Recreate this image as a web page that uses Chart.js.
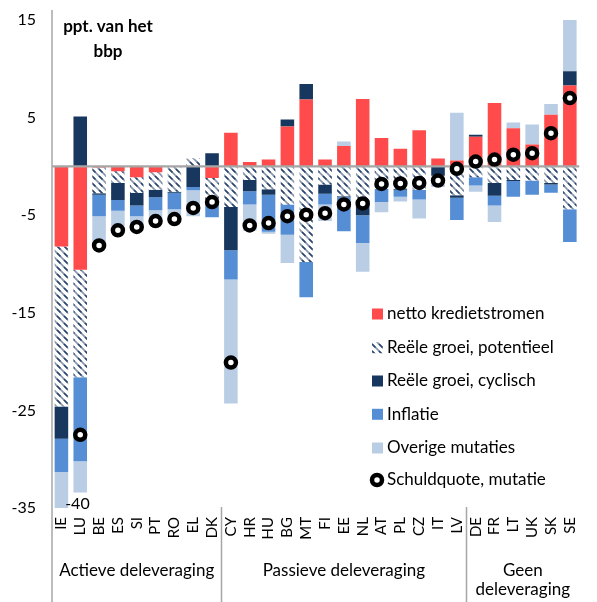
<!DOCTYPE html>
<html>
<head>
<meta charset="utf-8">
<script src="https://cdn.jsdelivr.net/npm/chart.js@4.4.0/dist/chart.umd.min.js"></script>
<style>
  body { margin: 0; background: #fff; }
  #wrap { width: 597px; height: 602px; position: relative; }
</style>
</head>
<body>
<div id="wrap"><canvas id="chart"></canvas></div>
<script>
const countries = ["IE", "LU", "BE", "ES", "SI", "PT", "RO", "EL", "DK",
  "CY", "HR", "HU", "BG", "MT", "FI", "EE", "NL", "AT", "PL", "CZ", "IT", "LV",
  "DE", "FR", "LT", "UK", "SK", "SE"];

const kredietstromen = [-8.2, -10.6, -0.1, -0.5, -1.1, -0.6, -0.05, 0, -1.2,
  3.45, 0.45, 0.7, 4.1, 6.85, 0.7, 2.1, 6.9, 2.9, 1.8, 3.7, 0.8, 0.6,
  3.05, 6.5, 3.9, 2.25, 5.3, 8.3];
const groeiPotentieel = [-16.4, -11.0, -2.65, -1.2, -1.6, -1.8, -2.55, 0.8, -2.8,
  -4.15, -1.4, -2.35, -3.9, -9.8, -1.85, -3.05, -3.8, -2.3, -2.3, -2.4, 0, -2.95,
  -1.1, -1.7, -1.4, -1.45, -1.7, -4.4];
const groeiCyclisch = [-3.3, 5.1, -0.15, -1.75, -1.3, -0.75, -0.1, -2.1, 1.35,
  -4.45, -1.15, -0.55, 0.7, 1.6, -0.95, -0.1, -1.2, 0, -0.1, 0, -0.95, -0.25,
  0.2, -1.3, -0.1, 0, -0.15, 1.45];
const inflatie = [-3.4, -8.6, -2.2, -1.1, -1.1, -1.35, -1.7, -0.35, -1.2,
  -3.0, -1.35, -3.8, -3.1, -3.6, -1.1, -3.5, -2.85, -1.35, -0.7, -1.0, 0, -2.3,
  -0.85, -1.0, -1.6, -1.45, -0.85, -3.35];
const overig = [-8.7, -3.2, -3.1, -2.25, -1.2, -1.2, -1.2, -2.65, 0,
  -12.7, -2.7, -0.2, -2.9, 0, -1.7, 0.45, -2.95, -1.05, -0.5, -1.95, -1.15, 4.9,
  -0.65, -1.7, 0.6, 2.05, 1.1, 5.45];
const schuldquote = [null, -27.5, -8.1, -6.55, -6.2, -5.6, -5.4, -4.25, -3.65,
  -20.1, -6.05, -5.8, -5.1, -4.95, -4.8, -3.9, -3.8, -1.8, -1.75, -1.7, -1.45, -0.25,
  0.5, 0.7, 1.2, 1.35, 3.4, 7.0];

const groups = [
  { lines: ["Actieve deleveraging"], from: 0, to: 8 },
  { lines: ["Passieve deleveraging"], from: 9, to: 21 },
  { lines: ["Geen", "deleveraging"], from: 22, to: 27 }
];
const seriesNames = ["netto kredietstromen", "Reële groei, potentieel", "Reële groei, cyclisch",
  "Inflatie", "Overige mutaties", "Schuldquote, mutatie"];

const FONT = "Lato, 'Noto Sans', sans-serif";
const RED = "#ff4b4b", NAVY = "#17375e", BLUE = "#558ed5", LIGHT = "#b9cde5";

// white with dashed navy diagonals, like the Excel fill
function makeHatch() {
  const c = document.createElement("canvas");
  c.width = 7; c.height = 7;
  const g = c.getContext("2d");
  g.fillStyle = "#fff";
  g.fillRect(0, 0, 7, 7);
  g.lineWidth = 1.6;
  g.strokeStyle = "#8796ab";
  g.beginPath();
  g.moveTo(-1, -1); g.lineTo(8, 8);
  g.moveTo(-1, 6); g.lineTo(1, 8);
  g.moveTo(6, -1); g.lineTo(8, 1);
  g.stroke();
  g.strokeStyle = "#2a4570";
  g.beginPath();
  g.moveTo(1, 1); g.lineTo(4.5, 4.5);
  g.stroke();
  return g.createPattern(c, "repeat");
}
const HATCH = makeHatch();

function barSet(label, data, color) {
  return {
    type: "bar", label, data, backgroundColor: color,
    barPercentage: 0.72, categoryPercentage: 1, stack: "bars"
  };
}

const extras = {
  id: "extras",
  beforeDatasetDraw(chart, args) {
    if (args.index !== 5) return;
    const { ctx, chartArea } = chart;
    const y0 = chart.scales.y.getPixelForValue(0);
    ctx.save();
    ctx.strokeStyle = "#a6a6a6";
    ctx.lineWidth = 2.3;
    ctx.beginPath();
    ctx.moveTo(chartArea.left, y0);
    ctx.lineTo(chartArea.right, y0);
    ctx.stroke();
    ctx.restore();
  },
  afterDraw(chart) {
    const { ctx, chartArea } = chart;
    const xs = chart.scales.x;
    ctx.save();
    // left axis and group separators
    ctx.strokeStyle = "#a6a6a6";
    ctx.lineWidth = 1.5;
    ctx.beginPath();
    ctx.moveTo(chartArea.left, 10);
    ctx.lineTo(chartArea.left, 602);
    [8.5, 21.5].forEach(v => {
      const x = Math.round(xs.getPixelForValue(v)) + 0.5;
      ctx.moveTo(x, chartArea.bottom - 1);
      ctx.lineTo(x, 602);
    });
    ctx.stroke();

    ctx.fillStyle = "#000";
    ctx.textAlign = "center";
    ctx.textBaseline = "middle";
    ctx.font = "17px " + FONT;
    groups.forEach(g => {
      const x = xs.getPixelForValue((g.from + g.to) / 2);
      g.lines.forEach((t, i) => ctx.fillText(t, x, 571 + i * 19));
    });

    // unit label
    ctx.font = "bold 17px " + FONT;
    ctx.fillText("ppt. van het", 108, 27);
    ctx.fillText("bbp", 108, 52);

    // truncated bar value
    ctx.font = "16px " + FONT;
    ctx.fillText("-40", xs.getPixelForValue(0.85), 504);

    // legend
    const fills = [RED, HATCH, NAVY, BLUE, LIGHT];
    ctx.textAlign = "left";
    ctx.font = "17px " + FONT;
    const rows = [314, 347.7, 381, 414.3, 448, 480];
    seriesNames.forEach((name, i) => {
      const y = rows[i];
      if (i < 5) {
        ctx.fillStyle = fills[i];
        ctx.fillRect(372, y - 5.5, 11, 11);
      } else {
        ctx.beginPath();
        ctx.arc(377, y, 5, 0, Math.PI * 2);
        ctx.fillStyle = "#fff";
        ctx.fill();
        ctx.lineWidth = 4.5;
        ctx.strokeStyle = "#000";
        ctx.stroke();
      }
      ctx.fillStyle = "#000";
      ctx.fillText(name, 387, y);
    });
    ctx.restore();
  }
};

new Chart(document.getElementById("chart"), {
  data: {
    labels: countries,
    datasets: [
      barSet(seriesNames[0], kredietstromen, RED),
      barSet(seriesNames[1], groeiPotentieel, HATCH),
      barSet(seriesNames[2], groeiCyclisch, NAVY),
      barSet(seriesNames[3], inflatie, BLUE),
      barSet(seriesNames[4], overig, LIGHT),
      {
        type: "line", label: seriesNames[5], data: schuldquote, stack: "markers",
        showLine: false, order: -1,
        pointRadius: 5, pointHoverRadius: 5, pointBorderWidth: 4.5,
        pointBackgroundColor: "#fff", pointBorderColor: "#000"
      }
    ]
  },
  options: {
    responsive: true,
    maintainAspectRatio: false,
    animation: false,
    layout: { padding: { top: 20, left: 0, right: 0, bottom: 0 } },
    plugins: { legend: { display: false }, tooltip: { enabled: false } },
    scales: {
      x: {
        stacked: true,
        grid: { display: false, drawTicks: false },
        border: { display: false },
        ticks: {
          autoSkip: false, minRotation: 90, maxRotation: 90, padding: 9,
          color: "#000", font: { family: FONT, size: 15 }
        },
        afterFit(scale) { scale.height = 94; }
      },
      y: {
        stacked: true,
        min: -35,
        max: 15,
        grid: { display: false, drawTicks: false },
        border: { display: false },
        ticks: { stepSize: 10, padding: 16, color: "#000", font: { family: FONT, size: 16 } },
        afterFit(scale) {
          scale.width = 52;
          scale.paddingTop = 0;
          scale.paddingBottom = 0;
        }
      }
    }
  },
  plugins: [extras]
});
</script>
</body>
</html>
